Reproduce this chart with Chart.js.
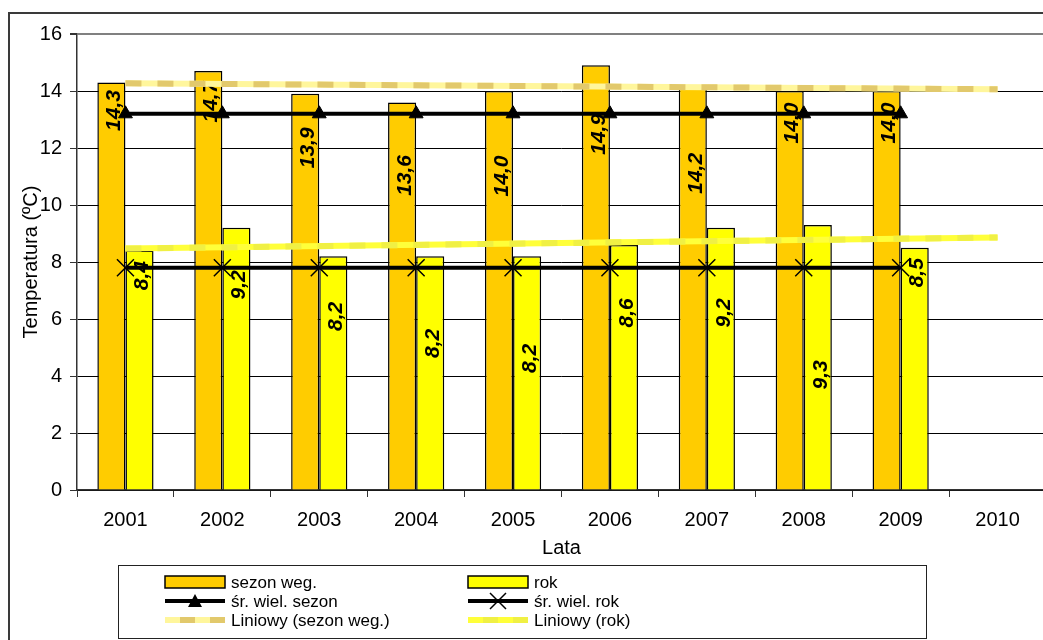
<!DOCTYPE html>
<html>
<head>
<meta charset="utf-8">
<script src="https://cdn.jsdelivr.net/npm/chart.js@4/dist/chart.umd.min.js"></script>
<style>
  html, body { margin: 0; padding: 0; width: 1043px; height: 640px; overflow: hidden; background: #fff; }
  #frame { position: absolute; left: 8px; top: 12px; width: 1060px; height: 680px; border: 2px solid #3a3a3a; background: #fff; }
  canvas { display: block; }
</style>
</head>
<body>
<div id="frame"><canvas id="chart" width="1060" height="680"></canvas></div>
<script>
// Years on the category axis
const years = ['2001', '2002', '2003', '2004', '2005', '2006', '2007', '2008', '2009', '2010'];

// Mean temperature of the growing season and of the whole year (°C)
const sezonWeg = [14.3, 14.7, 13.9, 13.6, 14.0, 14.9, 14.2, 14.0, 14.0, null];
const rok      = [8.4, 9.2, 8.2, 8.2, 8.2, 8.6, 9.2, 9.3, 8.5, null];

// Long-term averages
const srWielSezon = [13.2, 13.2, 13.2, 13.2, 13.2, 13.2, 13.2, 13.2, 13.2, null];
const srWielRok   = [7.8, 7.8, 7.8, 7.8, 7.8, 7.8, 7.8, 7.8, 7.8, null];

// Linear trend lines: values at 2001 and at 2010
const trendSezonEnds = [14.27, 14.06];
const trendRokEnds   = [8.47, 8.86];

// Value axis ticks
const yTicks = [0, 2, 4, 6, 8, 10, 12, 14, 16];

// How far (px) each value label sits below the top of its bar
const sezonLabelDrop = [28, 31, 54, 73, 85, 69, 88, 32, 32, 0];
const rokLabelDrop   = [25, 57, 60, 87, 102, 68, 85, 150, 25, 0];

const FONT = '"Liberation Sans", Arial, sans-serif';
Chart.defaults.font.family = FONT;
Chart.defaults.color = '#000';

const endsToSeries = (ends) => years.map((_, i) => i === 0 ? ends[0] : (i === years.length - 1 ? ends[1] : null));

// Dashed second colour over the trend lines, and value labels right after each bar series
const seriesExtras = {
  id: 'seriesExtras',
  afterDatasetDraw(chart, args) {
    const ds = chart.data.datasets[args.index];
    const ctx = chart.ctx;
    if (ds.dashColor) {
      const pts = args.meta.data.filter((p, i) => ds.data[i] != null);
      if (pts.length < 2) return;
      const a = chart.chartArea;
      ctx.save();
      ctx.beginPath();
      ctx.rect(a.left, a.top, a.right - a.left, a.bottom - a.top);
      ctx.clip();
      ctx.beginPath();
      ctx.moveTo(pts[0].x, pts[0].y);
      for (let k = 1; k < pts.length; k++) ctx.lineTo(pts[k].x, pts[k].y);
      ctx.strokeStyle = ds.dashColor;
      ctx.lineWidth = ds.borderWidth;
      ctx.lineCap = 'butt';
      ctx.setLineDash([16, 16]);
      ctx.stroke();
      ctx.restore();
      return;
    }
    if (ds.type === 'bar') {
      const drops = args.index === 0 ? sezonLabelDrop : rokLabelDrop;
      args.meta.data.forEach((bar, i) => {
        const v = ds.data[i];
        if (v == null) return;
        ctx.save();
        ctx.translate(bar.x + 3, bar.y + drops[i]);
        ctx.rotate(-Math.PI / 2);
        ctx.font = 'italic bold 21px ' + FONT;
        ctx.fillStyle = '#000';
        ctx.textAlign = 'center';
        ctx.textBaseline = 'middle';
        ctx.fillText(v.toFixed(1).replace('.', ','), 0, 0);
        ctx.restore();
      });
    }
  }
};

// Boxed two-column legend under the axis
const boxLegend = {
  id: 'boxLegend',
  afterDraw(chart) {
    const ctx = chart.ctx;
    const box = { x: 108.5, y: 551.5, w: 808, h: 73 };
    const colX = [155, 458];
    const rowY = [568, 587, 606];
    const symW = 60;
    ctx.save();
    ctx.strokeStyle = '#222';
    ctx.lineWidth = 1;
    ctx.strokeRect(box.x, box.y, box.w, box.h);
    chart.data.datasets.forEach((ds, k) => {
      const x = colX[k % 2];
      const y = rowY[Math.floor(k / 2)];
      if (ds.type === 'bar') {
        ctx.fillStyle = ds.backgroundColor;
        ctx.fillRect(x, y - 6, symW, 12);
        ctx.strokeStyle = '#000';
        ctx.lineWidth = 1.5;
        ctx.strokeRect(x, y - 6, symW, 12);
      } else if (ds.dashColor) {
        ctx.lineWidth = 6;
        ctx.lineCap = 'butt';
        ctx.strokeStyle = ds.borderColor;
        ctx.beginPath(); ctx.moveTo(x, y); ctx.lineTo(x + symW, y); ctx.stroke();
        ctx.setLineDash([15, 15]);
        ctx.lineDashOffset = -15;
        ctx.strokeStyle = ds.dashColor;
        ctx.beginPath(); ctx.moveTo(x, y); ctx.lineTo(x + symW, y); ctx.stroke();
        ctx.setLineDash([]);
      } else {
        ctx.lineWidth = 4;
        ctx.strokeStyle = ds.borderColor;
        ctx.beginPath(); ctx.moveTo(x, y); ctx.lineTo(x + symW, y); ctx.stroke();
        const cx = x + symW / 2;
        if (ds.pointStyle === 'triangle') {
          ctx.fillStyle = '#000';
          ctx.beginPath();
          ctx.moveTo(cx, y - 7); ctx.lineTo(cx + 7, y + 6); ctx.lineTo(cx - 7, y + 6);
          ctx.closePath(); ctx.fill();
        } else {
          ctx.lineWidth = 1.5;
          ctx.beginPath();
          ctx.moveTo(cx - 8, y - 8); ctx.lineTo(cx + 8, y + 8);
          ctx.moveTo(cx + 8, y - 8); ctx.lineTo(cx - 8, y + 8);
          ctx.stroke();
        }
      }
      ctx.fillStyle = '#000';
      ctx.font = '17px ' + FONT;
      ctx.textAlign = 'left';
      ctx.textBaseline = 'middle';
      ctx.fillText(ds.label, x + symW + 6, y + 1);
    });
    ctx.restore();
  }
};

new Chart(document.getElementById('chart'), {
  data: {
    labels: years,
    datasets: [
      { type: 'bar', label: 'sezon weg.', data: sezonWeg, backgroundColor: '#FFCC00', borderColor: '#000', borderWidth: 1.5,
        categoryPercentage: 0.58, barPercentage: 1.0, order: 10 },
      { type: 'bar', label: 'rok', data: rok, backgroundColor: '#FFFF00', borderColor: '#000', borderWidth: 1.5,
        categoryPercentage: 0.58, barPercentage: 1.0, order: 10 },
      { type: 'line', label: 'śr. wiel. sezon', data: srWielSezon, borderColor: '#000', backgroundColor: '#000', borderWidth: 4,
        pointStyle: 'triangle', pointRadius: 8, pointBorderWidth: 1, pointBackgroundColor: '#000', pointBorderColor: '#000', order: 1 },
      { type: 'line', label: 'śr. wiel. rok', data: srWielRok, borderColor: '#000', backgroundColor: '#000', borderWidth: 4,
        pointStyle: 'crossRot', pointRadius: 12, pointBorderWidth: 1.5, pointBorderColor: '#000', order: 1 },
      { type: 'line', label: 'Liniowy (sezon weg.)', data: endsToSeries(trendSezonEnds), borderColor: '#FFF69C', dashColor: '#E2C96C',
        borderWidth: 6, pointRadius: 0, spanGaps: true, borderCapStyle: 'butt', order: 2 },
      { type: 'line', label: 'Liniowy (rok)', data: endsToSeries(trendRokEnds), borderColor: '#FFFF3A', dashColor: '#F0F044',
        borderWidth: 6, pointRadius: 0, spanGaps: true, borderCapStyle: 'butt', order: 2 }
    ]
  },
  options: {
    responsive: false,
    animation: false,
    devicePixelRatio: 1,
    layout: { padding: { left: 0, top: 19, right: 24, bottom: 0 } },
    plugins: {
      legend: { display: false },
      tooltip: { enabled: false }
    },
    scales: {
      x: {
        type: 'category',
        offset: true,
        grid: { offset: true, drawOnChartArea: false, drawTicks: true, tickLength: 7, tickColor: '#333', lineWidth: 1 },
        border: { color: '#333', width: 1.5 },
        ticks: { font: { size: 20 }, color: '#000', padding: 11, maxRotation: 0 },
        title: { display: true, text: 'Lata', font: { size: 20 }, color: '#000', padding: { top: 0, bottom: 134 } },
        afterFit: (s) => { s.height = 204; }
      },
      y: {
        min: 0, max: 16,
        afterBuildTicks: (s) => { s.ticks = yTicks.map(v => ({ value: v })); },
        grid: { color: (c) => c.tick && c.tick.value === 16 ? '#808080' : '#000', lineWidth: (c) => c.tick && c.tick.value === 16 ? 2 : 1,
                drawTicks: true, tickLength: 7, tickColor: '#333' },
        border: { color: '#333', width: 1.5 },
        ticks: { font: { size: 20 }, color: '#000', padding: 8 },
        title: { display: true, text: 'Temperatura (ºC)', font: { size: 20 }, color: '#000', padding: { top: 9, bottom: 0 } },
        afterFit: (s) => { s.width = 67; }
      }
    }
  },
  plugins: [seriesExtras, boxLegend]
});
</script>
</body>
</html>
